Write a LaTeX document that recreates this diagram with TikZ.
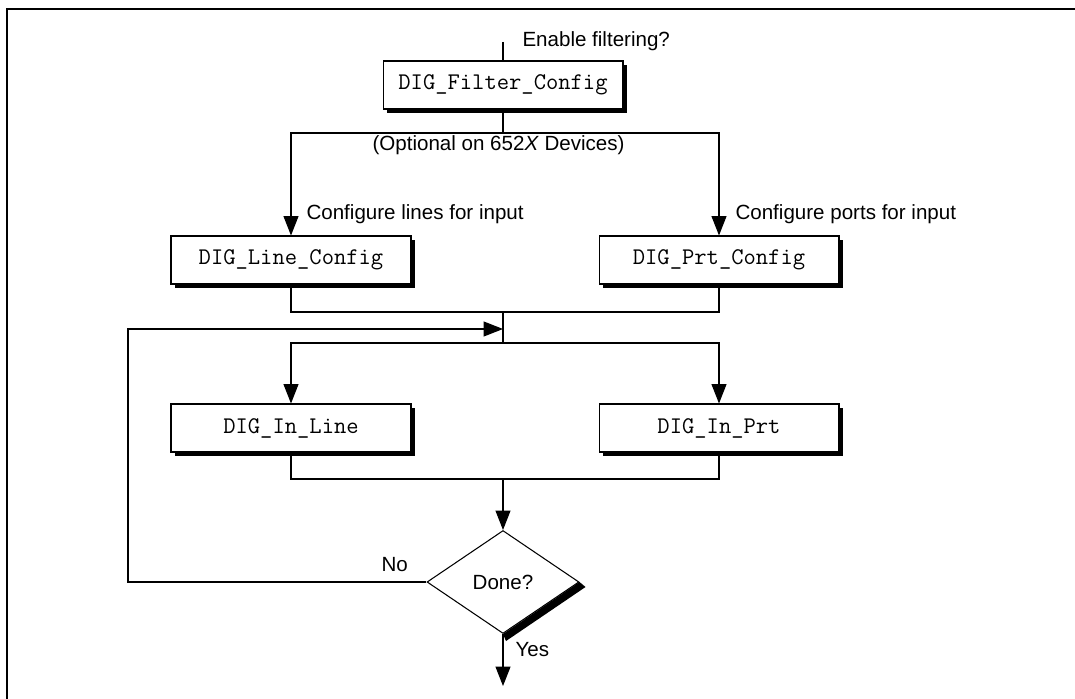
\documentclass[tikz,border=0pt]{standalone}
\usepackage{fontspec}
\setmainfont{Liberation Sans}
\usetikzlibrary{shapes.geometric,arrows.meta,shadows,calc}

\begin{document}
\begin{tikzpicture}[x=0.02cm, y=-0.02cm, line width=0.6pt,
		font=\fontsize{11.7pt}{14pt}\selectfont,
		>={Triangle[length=11pt,width=8.5pt]},
		callbox/.style={draw, fill=white, minimum width=4.8cm, minimum height=0.96cm, inner sep=0pt,
			font=\fontsize{13.6pt}{15pt}\ttfamily,
			drop shadow={shadow xshift=0.08cm, shadow yshift=-0.08cm, fill=black, opacity=1}},
		decision/.style={diamond, draw, fill=white, minimum width=3.04cm, minimum height=2.06cm, inner sep=0pt},
		note/.style={anchor=base west, inner sep=0pt}]
				\useasboundingbox (0,0) rectangle (1075,699);
				% frame
				\draw[line width=1.2pt] (7,699) -- (7,9) -- (1075,9);
				% setup calls
				\node[callbox] (filter) at (503,85) {DIG\_Filter\_Config};
				\node[callbox] (lineconf) at (291,260) {DIG\_Line\_Config};
				\node[callbox] (prtconf) at (719,260) {DIG\_Prt\_Config};
				% reading calls
				\node[callbox] (inline) at (291,428) {DIG\_In\_Line};
				\node[callbox] (inprt) at (719,428) {DIG\_In\_Prt};
				\node[decision] (done) at (503,582) {Done?};
				\fill ($(done.east)+(0,0)$) -- ($(done.south)+(0,0)$) -- ($(done.south)+(3,7)$) -- ($(done.east)+(6,5)$) -- cycle;
				% junctions
				\coordinate (start) at (503,42);
				\coordinate (split1) at (503,133);
				\coordinate (join1) at (503,312);
				\coordinate (merge) at (503,329);
				\coordinate (split2) at (503,343);
				\coordinate (join2) at (503,479);
				\coordinate (back) at (128,582);
				\coordinate (exit) at (503,686);
				% connectors
				\draw (start) -- (filter);
				\draw (filter) -- (split1);
				\draw[->] (split1) -| (lineconf);
				\draw[->] (split1) -| (prtconf);
				\draw (lineconf) |- (join1) -| (prtconf);
				\draw (join1) -- (split2);
				\draw[->] (split2) -| (inline);
				\draw[->] (split2) -| (inprt);
				\draw (inline) |- (join2) -| (inprt);
				\draw[->] (join2) -- (done);
				\draw[->] (done) -- (exit);
				\draw[->] (done) -- (back) |- (merge);
				% labels
				\node[note] (enable) at (522,47) {Enable filtering?};
				\node[note] (optional) at (372,151) {(Optional on 652\textit{X} Devices)};
				\node[note] (lineslbl) at (306,220) {Configure lines for input};
				\node[note] (portslbl) at (735,220) {Configure ports for input};
				\node[note] (nolbl) at (381,571) {No};
				\node[note] (yeslbl) at (515,656) {Yes};
			\end{tikzpicture}
\end{document}
